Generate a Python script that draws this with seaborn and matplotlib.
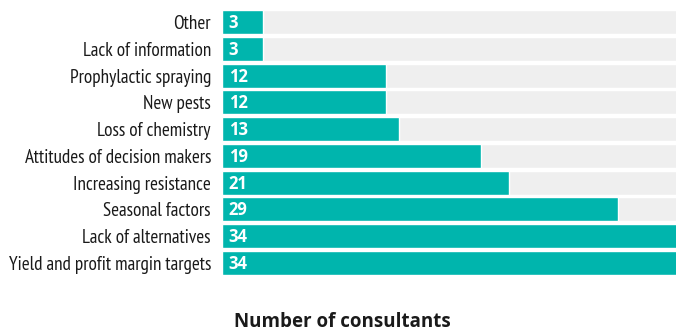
import matplotlib
matplotlib.use("Agg")
import matplotlib.pyplot as plt
import seaborn as sns
import pandas as pd

reasons = [
    "Other",
    "Lack of information",
    "Prophylactic spraying",
    "New pests",
    "Loss of chemistry",
    "Attitudes of decision makers",
    "Increasing resistance",
    "Seasonal factors",
    "Lack of alternatives",
    "Yield and profit margin targets",
]
consultants = [3, 3, 12, 12, 13, 19, 21, 29, 34, 34]

df = pd.DataFrame({"reason": reasons, "count": consultants})
df["full"] = max(consultants)

sns.set_style("white")
plt.rcParams["font.family"] = ["PT Sans Narrow", "DejaVu Sans"]

fig = plt.figure(figsize=(6.76, 3.31), dpi=100)
ax = fig.add_axes([222 / 676, 1 - 275 / 331, 1 - 222 / 676, 265 / 331])

teal = "#00b5ad"
sns.barplot(data=df, y="reason", x="full", orient="h", color="#efefef",
            width=0.9, saturation=1, ax=ax)
sns.barplot(data=df, y="reason", x="count", orient="h", color=teal,
            width=0.9, saturation=1, ax=ax)

for i, v in enumerate(df["count"]):
    ax.text(0.5, i + 0.04, str(v), color="white", fontweight="bold", fontsize=12,
            va="center", ha="left", family=["Open Sans", "DejaVu Sans"])

# the longest bars run off the right edge of the panel
ax.set_xlim(0, 33.26)
ax.set_ylim(9.45, -0.45)
ax.set_xlabel("")
ax.set_ylabel("")
ax.set_xticks([])
ax.tick_params(axis="y", length=0, pad=8, labelsize=13.8, labelcolor="#1a1a1a")
for s in ax.spines.values():
    s.set_visible(False)

fig.text(0.506, 1 - 322 / 331, "Number of consultants", ha="center",
         va="center", fontsize=13.5, fontweight="bold", color="#1a1a1a",
         family=["Open Sans", "DejaVu Sans"])

fig.savefig("out.png", dpi=100)
